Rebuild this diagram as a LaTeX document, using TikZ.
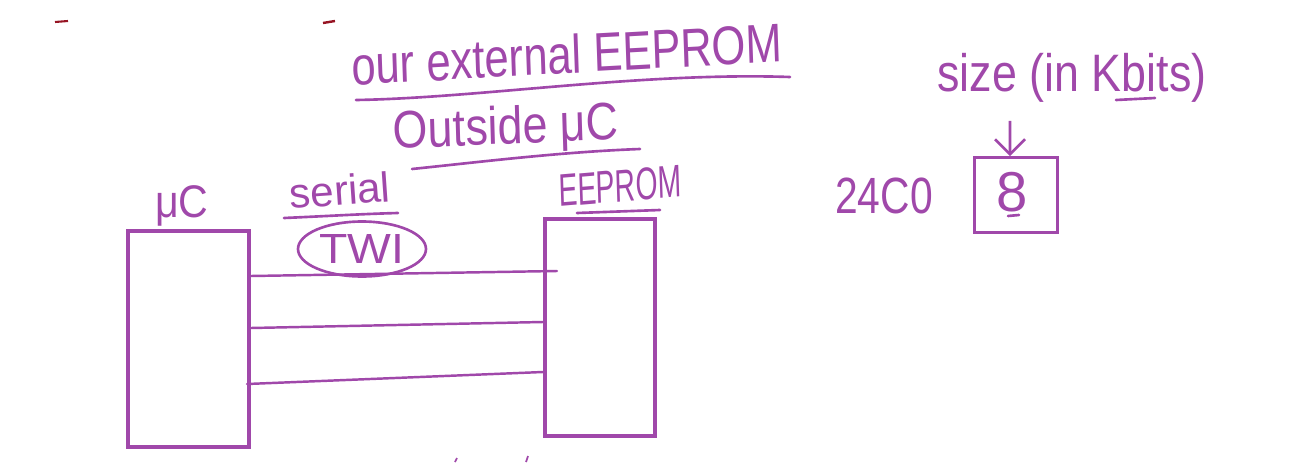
\documentclass[tikz,border=0pt]{standalone}
\usepackage{fontspec}
\setmainfont{Liberation Sans}
\usetikzlibrary{shapes.geometric,arrows.meta,calc}
\definecolor{ink}{RGB}{160,72,170}
\definecolor{redink}{RGB}{150,20,35}
\begin{document}
\begin{tikzpicture}[x=0.02cm,y=-0.02cm,
  box/.style={draw=ink, line width=2.3pt, inner sep=0pt},
  hw/.style={text=ink, inner sep=0pt},
  wire/.style={draw=ink, line width=1.4pt, line cap=round},
  uline/.style={draw=ink, line width=1.5pt, line cap=round}]
\useasboundingbox (0,0) rectangle (1291,463);
% stray marks
\draw[redink, line width=1.2pt] (55,22) -- (68,21);
\draw[redink, line width=1.4pt] (323,23) -- (335,21);
\draw[ink, line width=1pt] (455,462) -- (457,458);
\draw[ink, line width=1pt] (526,462) -- (528,456);
% boxes
\node[box, minimum width=2.42cm, minimum height=4.32cm] (mc) at (188.5,339) {};
\node[box, minimum width=2.2cm, minimum height=4.34cm] (ee) at (600,327.5) {};
% wires
\coordinate (y1) at (0,276);
\coordinate (y1e) at (557,271);
\coordinate (y2) at (0,328);
\coordinate (y2e) at (0,322);
\coordinate (y3) at (0,384);
\coordinate (y3e) at (0,372);
\draw[wire] (mc.east |- y1) -- (y1e);
\draw[wire] (mc.east |- y2) -- (ee.west |- y2e);
\draw[wire] ([xshift=-0.08cm]mc.east |- y3) -- (ee.west |- y3e);
% labels on the link
\node[hw, font=\fontsize{26}{28}\selectfont, xscale=0.9] (mclab) at (182,206) {μC};
\node[hw, font=\fontsize{24}{26}\selectfont, rotate=4] (serial) at (340,190) {serial};
\draw[uline] (284,218) .. controls (330,216) and (360,214) .. (398,213);
\node[hw, font=\fontsize{24}{26}\selectfont, xscale=1.1] (twi) at (362,249) {TWI};
\node[draw=ink, line width=1.5pt, ellipse, minimum width=2.56cm, minimum height=1.1cm] (twiring) at (twi) {};
\node[hw, font=\fontsize{26}{28}\selectfont, xscale=0.62, rotate=3] (eelab) at (620,186) {EEPROM};
\draw[uline] (577,213) -- (660,210);
% title lines
\node[hw, font=\fontsize{31}{33}\selectfont, xscale=0.8, rotate=2.5] (title) at (567,54) {our external EEPROM};
\draw[uline] (356,100) .. controls (480,98) and (640,72) .. (790,77);
\node[hw, font=\fontsize{30}{32}\selectfont, xscale=0.85, rotate=2] (outside) at (506,130) {Outside μC};
\draw[uline] (412,169) .. controls (480,162) and (560,152) .. (640,149);
% size note
\node[hw, font=\fontsize{30}{32}\selectfont, xscale=0.85] (size) at (1072,78) {size (in Kbits)};
\draw[uline] (1116,100) -- (1155,98);
\node[hw, font=\fontsize{29}{31}\selectfont, xscale=0.8] (part) at (884,196) {24C0};
\node[draw=ink, line width=1.6pt, minimum width=1.66cm, minimum height=1.5cm] (eightbox) at (1016,195) {};
\node[hw, font=\fontsize{32}{34}\selectfont] (eight) at (1012,192) {8};
\draw[uline] (1008,216) -- (1019,215);
\draw[ink, line width=1.5pt, -{Straight Barb[length=3mm,width=6mm]}] (size.south -| eightbox) ++(-6,18) -- ([xshift=-0.12cm]eightbox.north);
\end{tikzpicture}
\end{document}
